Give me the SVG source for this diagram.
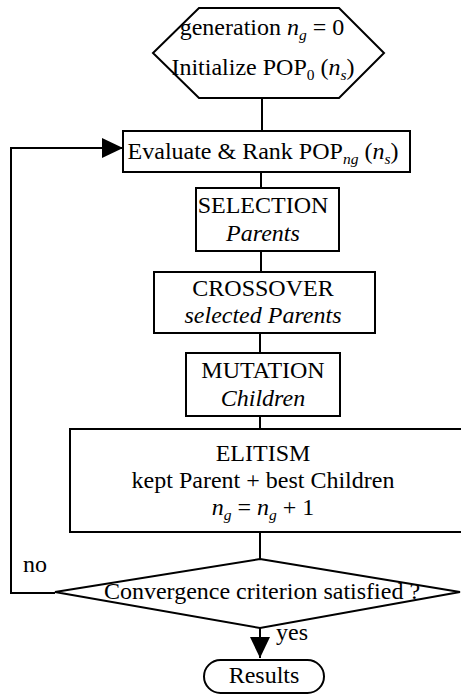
<svg xmlns="http://www.w3.org/2000/svg" width="461" height="694" viewBox="0 0 461 694">
<style>
.s{fill:#fff;stroke:#000;stroke-width:2}
.l{fill:none;stroke:#000;stroke-width:2}
text{font-family:"Liberation Serif","Times New Roman",serif;font-size:24px;fill:#000}
.c{text-anchor:middle}
.i{font-style:italic}
.sub{font-size:15.5px;font-style:italic}
</style>
<defs>
<marker id="ahb" viewBox="0 0 21 20" refX="21" refY="10" markerWidth="21" markerHeight="20" markerUnits="userSpaceOnUse" orient="auto">
<path d="M0,0 L21,10 L0,20 Z" fill="#000"/>
</marker>
</defs>
<g id="connectors">
<line class="l" x1="262" y1="98" x2="262" y2="131"/>
<line class="l" x1="261" y1="172" x2="261" y2="188"/>
<line class="l" x1="261" y1="251" x2="261" y2="272"/>
<line class="l" x1="260" y1="333" x2="260" y2="353"/>
<line class="l" x1="260" y1="416" x2="260" y2="429"/>
<line class="l" x1="260" y1="532" x2="260" y2="559"/>
<polyline class="l" points="55,593 11,593 11,148 123,148" marker-end="url(#ahb)"/>
<line class="l" x1="260" y1="628" x2="260" y2="658" marker-end="url(#ahb)"/>
<text x="23" y="572">no</text>
<text x="276" y="640">yes</text>
</g>
<g id="start">
<polygon class="s" points="199,8 339,8 384,53 339,98 199,98 153,53"/>
<text class="c" x="262" y="35">generation <tspan class="i">n</tspan><tspan class="sub" dy="5">g</tspan><tspan dy="-5"> = 0</tspan></text>
<text class="c" x="263" y="75">Initialize POP<tspan font-size="15.5" dy="5">0</tspan><tspan dy="-5"> (</tspan><tspan class="i">n</tspan><tspan class="sub" dy="5">s</tspan><tspan dy="-5">)</tspan></text>
</g>
<g id="evaluate">
<rect class="s" x="123" y="131" width="287" height="41"/>
<text class="c" x="263" y="159">Evaluate &amp; Rank POP<tspan class="sub" dy="5">ng</tspan><tspan dy="-5"> (</tspan><tspan class="i">n</tspan><tspan class="sub" dy="5">s</tspan><tspan dy="-5">)</tspan></text>
</g>
<g id="selection">
<rect class="s" x="196" y="188" width="143" height="63"/>
<text class="c" x="263" y="213">SELECTION</text>
<text class="c i" x="263" y="241">Parents</text>
</g>
<g id="crossover">
<rect class="s" x="154" y="272" width="221" height="61"/>
<text class="c" x="263" y="296">CROSSOVER</text>
<text class="c i" x="263" y="323">selected Parents</text>
</g>
<g id="mutation">
<rect class="s" x="186" y="353" width="154" height="63"/>
<text class="c" x="263" y="378">MUTATION</text>
<text class="c i" x="263" y="406">Children</text>
</g>
<g id="elitism">
<rect class="s" x="70" y="429" width="400" height="103"/>
<text class="c" x="263" y="461">ELITISM</text>
<text class="c" x="263" y="488">kept Parent + best Children</text>
<text class="c" x="263" y="515"><tspan class="i">n</tspan><tspan class="sub" dy="5">g</tspan><tspan dy="-5"> = </tspan><tspan class="i">n</tspan><tspan class="sub" dy="5">g</tspan><tspan dy="-5"> + 1</tspan></text>
</g>
<g id="convergence">
<polygon class="s" points="260,559 460,592 260,628 55,592"/>
<text class="c" x="262" y="599">Convergence criterion satisfied ?</text>
</g>
<g id="results">
<rect class="s" x="204" y="660" width="120" height="33" rx="16.5" ry="16.5"/>
<text class="c" x="264" y="683">Results</text>
</g>
</svg>
